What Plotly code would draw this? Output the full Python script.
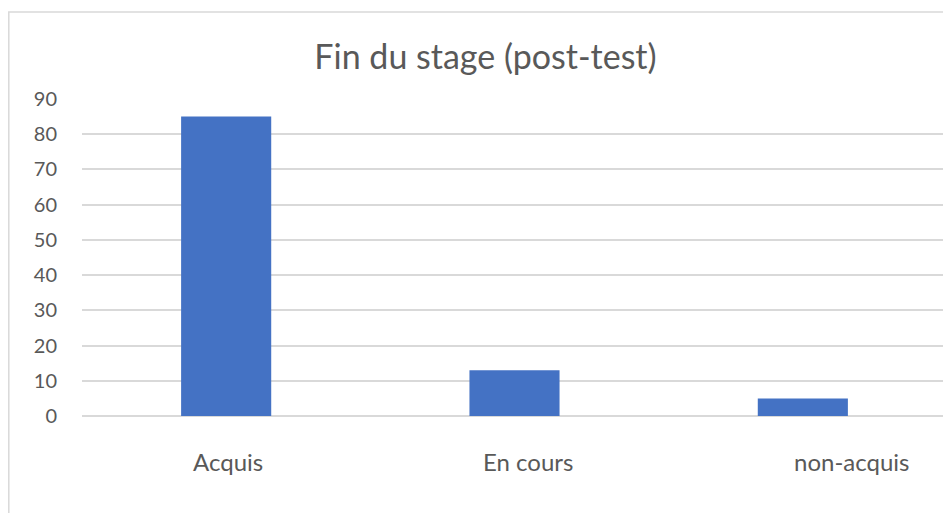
import plotly.graph_objects as go

categories = ["Acquis", "En cours", "non-acquis"]
values = [85, 13, 5]
label_shifts = [2, 13, 49]  # horizontal offsets of category labels (px)
y_ticks = [0, 10, 20, 30, 40, 50, 60, 70, 80, 90]
title_text = "Fin du stage (post-test)"

# page body has an 8px margin; figure sits at (8, 8)
OFF = 8
W, H = 951 - OFF, 513 - OFF
ML, MR, MT, MB = 82 - OFF, 4, 99 - OFF, 97
pw, ph = W - ML - MR, H - MT - MB

FONT = "Lato"
TXT = "#595959"
GRID = "#d9d9d9"

fig = go.Figure()
fig.add_trace(go.Bar(x=categories, y=values, marker=dict(color="#4472C4", line=dict(width=0)),
                     hoverinfo="x+y"))

for c, s in zip(categories, label_shifts):
    fig.add_annotation(x=c, y=0, xref="x", yref="y", text=c, showarrow=False,
                       xanchor="center", yanchor="middle", xshift=s, yshift=-45,
                       font=dict(family=FONT, size=24, color=TXT))

# chart border (partially cropped)
fig.add_shape(type="rect", xref="paper", yref="paper",
              x0=(0.8 - ML) / pw, x1=1.2, y0=-0.6, y1=(H - MB - (12 - OFF)) / ph,
              line=dict(color=GRID, width=1.5), fillcolor="rgba(0,0,0,0)", layer="below")

fig.update_layout(
    width=W, height=H,
    margin=dict(l=ML, r=MR, t=MT, b=MB, pad=0),
    paper_bgcolor="white", plot_bgcolor="white",
    showlegend=False,
    bargap=0.6875,
    title=dict(text=title_text, x=(485.5 - OFF) / W, xanchor="center", xref="container",
               y=1 - (57 - OFF) / H, yanchor="middle", yref="container",
               font=dict(family=FONT, size=34, color=TXT)),
    xaxis=dict(showticklabels=False, showgrid=False, zeroline=False, showline=False,
               ticks=""),
    yaxis=dict(range=[0, 90], tickvals=y_ticks, showgrid=True, gridcolor=GRID, gridwidth=1.5,
               zeroline=True, zerolinecolor=GRID, zerolinewidth=1.5, showline=False,
               ticks="outside", ticklen=20, tickcolor="rgba(0,0,0,0)",
               tickfont=dict(family=FONT, size=20, color=TXT)),
)

fig.write_html("out.html")
